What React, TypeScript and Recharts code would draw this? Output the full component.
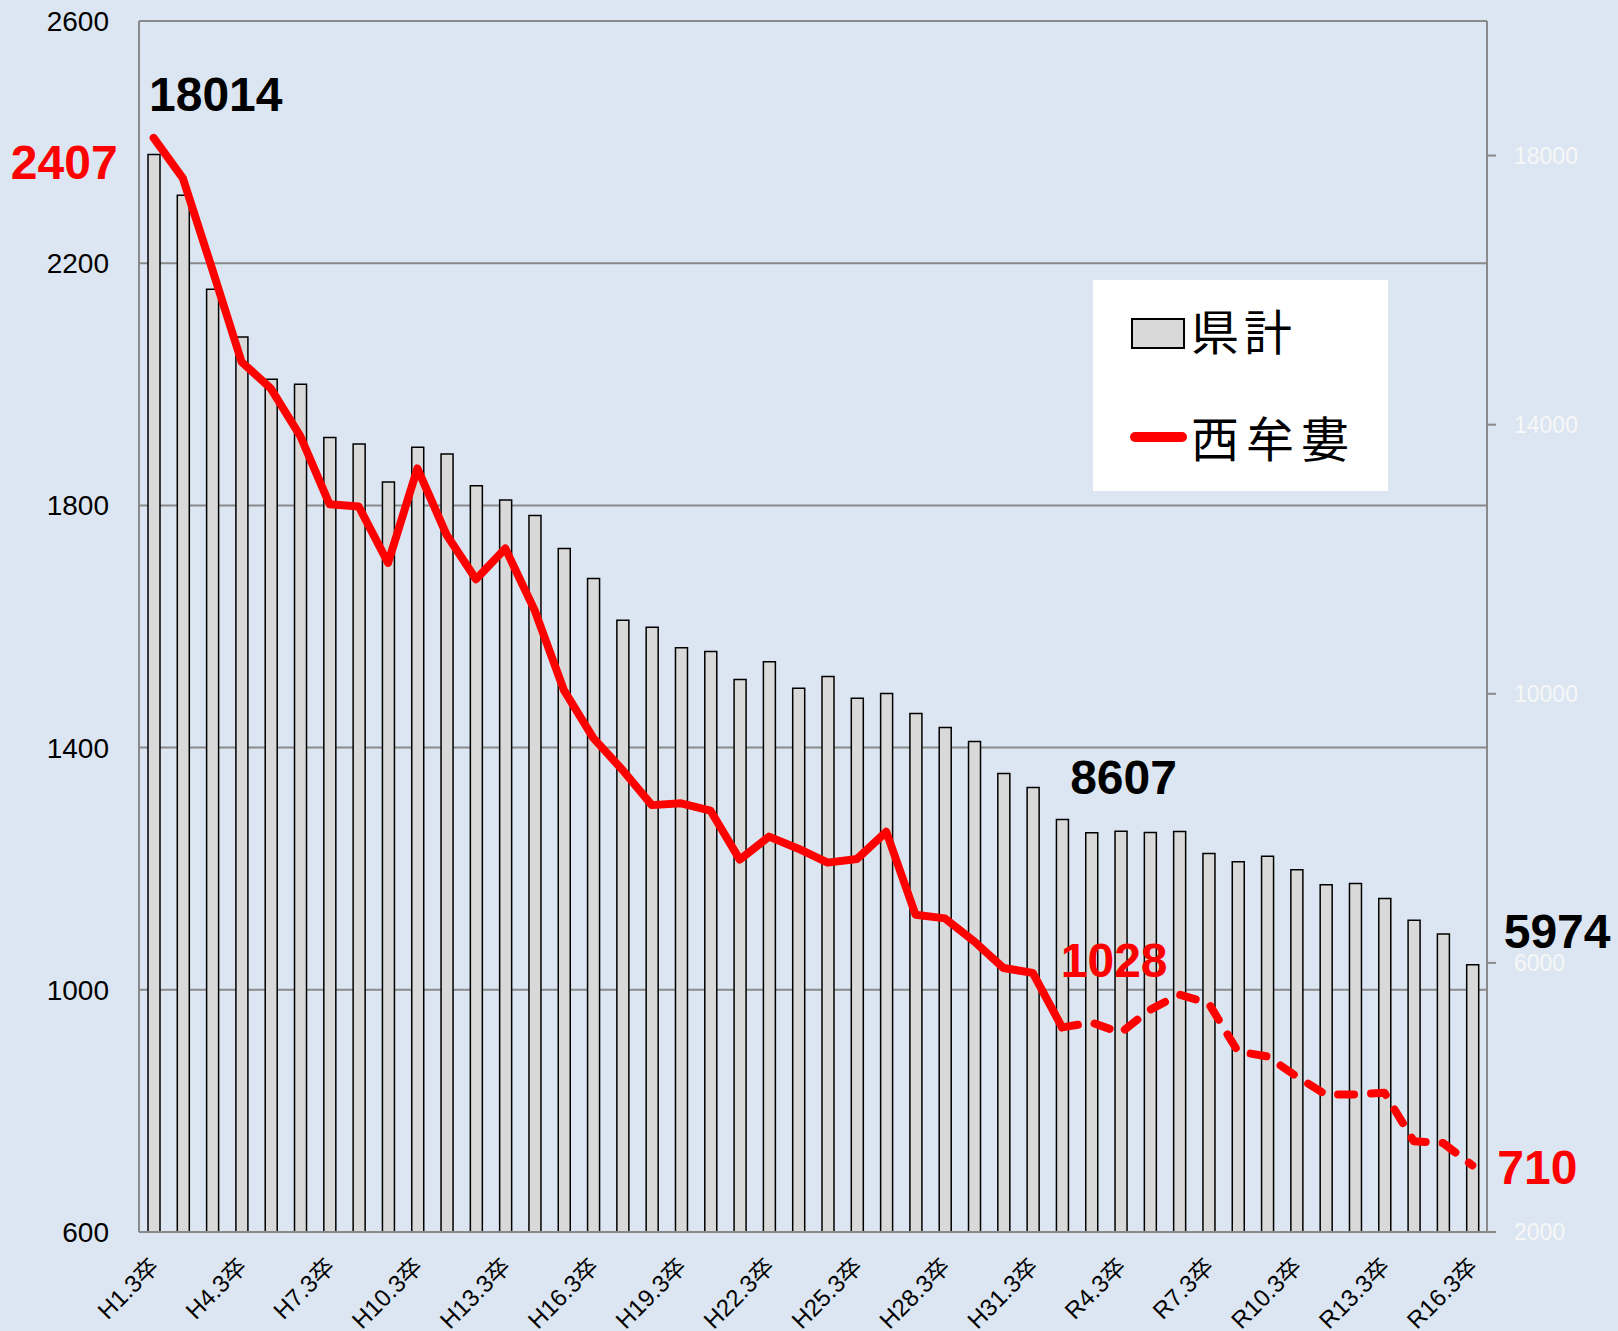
import React from 'react';
import { ComposedChart, Bar, Line, XAxis, YAxis, CartesianGrid, Legend, LabelList } from 'recharts';

const categories = [
  'H1.3卒', 'H2.3卒', 'H3.3卒', 'H4.3卒', 'H5.3卒', 'H6.3卒', 'H7.3卒', 'H8.3卒', 'H9.3卒', 'H10.3卒',
  'H11.3卒', 'H12.3卒', 'H13.3卒', 'H14.3卒', 'H15.3卒', 'H16.3卒', 'H17.3卒', 'H18.3卒', 'H19.3卒', 'H20.3卒',
  'H21.3卒', 'H22.3卒', 'H23.3卒', 'H24.3卒', 'H25.3卒', 'H26.3卒', 'H27.3卒', 'H28.3卒', 'H29.3卒', 'H30.3卒',
  'H31.3卒', 'R2.3卒', 'R3.3卒', 'R4.3卒', 'R5.3卒', 'R6.3卒', 'R7.3卒', 'R8.3卒', 'R9.3卒', 'R10.3卒',
  'R11.3卒', 'R12.3卒', 'R13.3卒', 'R14.3卒', 'R15.3卒', 'R16.3卒',
];

// 県計 (right axis)
const prefTotal = [
  18014, 17410, 16012, 15303, 14674, 14600, 13811, 13712, 13147, 13663,
  13563, 13093, 12879, 12651, 12161, 11715, 11094, 10990, 10684, 10629,
  10213, 10476, 10083, 10257, 9935, 10005, 9707, 9499, 9291, 8815,
  8607, 8131, 7933, 7957, 7938, 7952, 7625, 7502, 7585, 7383,
  7160, 7179, 6956, 6634, 6431, 5974,
];

// 西牟婁 (left axis)
const nishimuro = [
  2407, 2340, 2190, 2037, 1993, 1915, 1802, 1798, 1705, 1861,
  1751, 1678, 1729, 1627, 1495, 1416, 1363, 1305, 1308, 1296,
  1215, 1253, 1233, 1210, 1216, 1261, 1124, 1118, 1080, 1036,
  1028, 938, 946, 929, 967, 992, 978, 898, 890, 857,
  827, 827, 830, 750, 747, 710,
];

// solid line up to this index, dashed from here on
const lastSolidIndex = 31;

const leftTicks = [600, 1000, 1400, 1800, 2200, 2600];
const rightTicks = [2000, 6000, 10000, 14000, 18000];

const chartData = categories.map((name, i) => ({
  name,
  total: prefTotal[i],
  actual: i <= lastSolidIndex ? nishimuro[i] : null,
  forecast: i >= lastSolidIndex ? nishimuro[i] : null,
}));

const FONT = "'Liberation Sans', Arial, 'Noto Sans CJK JP', sans-serif";
const CJK = "'Noto Sans CJK JP', sans-serif";
const GRID = '#8a8a8a';
const RED = '#ff0000';

type Note = { dx: number; dy: number; anchor: 'start' | 'end' };

const barNotes: Record<number, Note> = {
  0: { dx: -5, dy: -44, anchor: 'start' },
  30: { dx: 37, dy: 7, anchor: 'start' },
  45: { dx: 31, dy: -17, anchor: 'start' },
};

const lineNotes: Record<number, Note> = {
  0: { dx: -36, dy: 41, anchor: 'end' },
  30: { dx: 28, dy: 4, anchor: 'start' },
  45: { dx: 25, dy: 19, anchor: 'start' },
};

const makeNote = (notes: Record<number, Note>, color: string) => (props: any) => {
  const { index, value } = props;
  const note = notes[index];
  if (!note || value == null) return null;
  const vb = props.viewBox || {};
  const x0 = (vb.x ?? props.x) + (vb.width ?? props.width ?? 0) / 2;
  const y0 = vb.y ?? props.y;
  return (
    <text
      x={x0 + note.dx}
      y={y0 + note.dy}
      textAnchor={note.anchor}
      fill={color}
      fontSize={48}
      fontWeight="bold"
      fontFamily={FONT}
    >
      {value}
    </text>
  );
};

const XTick = (props: any) => {
  const { x, y, payload } = props;
  return (
    <g transform={`translate(${x + 1},${y + 28})`}>
      <text
        x={0}
        y={0}
        dy="0.35em"
        textAnchor="end"
        transform="rotate(-45)"
        fill="#000"
        fontSize={24}
        fontFamily={FONT}
      >
        {payload.value}
      </text>
    </g>
  );
};

const renderLegend = (props: any) => {
  const items = (props.payload || []).filter((p: any) => p.type !== 'none');
  return (
    <svg width={295} height={211} style={{ display: 'block' }}>
      <rect x={0} y={0} width={295} height={211} fill="#ffffff" />
      {items.map((item: any, i: number) => {
        const baseline = i === 0 ? 70 : 177;
        const mid = i === 0 ? 53 : 157;
        return (
          <g key={item.value}>
            {item.type === 'line' ? (
              <line x1={42} y1={mid} x2={89} y2={mid} stroke={item.color} strokeWidth={10} strokeLinecap="round" />
            ) : (
              <rect x={39} y={39} width={52} height={29} fill="#d9d9d9" stroke="#000" strokeWidth={2} />
            )}
            <text x={98} y={baseline} fontSize={48} letterSpacing={i === 0 ? 5 : 7} fill="#000" fontFamily={CJK}>
              {item.value}
            </text>
          </g>
        );
      })}
    </svg>
  );
};

export default function App() {
  return (
    <div style={{ position: 'absolute', left: 0, top: 0, width: 1618, height: 1331, background: '#dce6f2' }}>
      <ComposedChart
        width={1618}
        height={1331}
        data={chartData}
        margin={{ top: 21, right: 0, bottom: 0, left: 0 }}
      >
        <CartesianGrid yAxisId="left" vertical={false} stroke={GRID} strokeWidth={2} />
        <XAxis
          dataKey="name"
          height={99}
          interval={2}
          tickLine={false}
          tickSize={0}
          axisLine={{ stroke: GRID, strokeWidth: 2 }}
          tick={<XTick />}
        />
        <YAxis
          yAxisId="left"
          orientation="left"
          width={139}
          domain={[600, 2600]}
          ticks={leftTicks}
          tickLine={false}
          tickSize={0}
          tickMargin={30}
          axisLine={{ stroke: GRID, strokeWidth: 2 }}
          tick={{ fill: '#000', fontSize: 28, fontFamily: FONT }}
        />
        <YAxis
          yAxisId="right"
          orientation="right"
          width={131}
          domain={[2000, 20000]}
          ticks={rightTicks}
          tickSize={9}
          tickMargin={18}
          tickLine={{ stroke: GRID, strokeWidth: 2 }}
          axisLine={{ stroke: GRID, strokeWidth: 2 }}
          tick={{ fill: '#f7f7f7', fontSize: 23, fontFamily: FONT }}
        />
        <Bar
          yAxisId="right"
          dataKey="total"
          name="県計"
          barSize={12}
          fill="#d9d9d9"
          stroke="#000"
          strokeWidth={1.5}
          legendType="rect"
          isAnimationActive={false}
        >
          <LabelList dataKey="total" content={makeNote(barNotes, '#000')} />
        </Bar>
        <Line
          yAxisId="left"
          dataKey="actual"
          name="西牟婁"
          stroke={RED}
          strokeWidth={8}
          strokeLinejoin="round"
          strokeLinecap="round"
          dot={false}
          activeDot={false}
          legendType="line"
          isAnimationActive={false}
        >
          <LabelList dataKey="actual" content={makeNote(lineNotes, RED)} />
        </Line>
        <Line
          yAxisId="left"
          dataKey="forecast"
          name="西牟婁（推計）"
          stroke={RED}
          strokeWidth={8}
          strokeDasharray="16 17"
          strokeLinejoin="round"
          strokeLinecap="round"
          dot={false}
          activeDot={false}
          legendType="none"
          isAnimationActive={false}
        >
          <LabelList dataKey="forecast" content={makeNote(lineNotes, RED)} />
        </Line>
        <Legend
          layout="vertical"
          align="center"
          verticalAlign="middle"
          wrapperStyle={{ left: 1093, top: 280, width: 295, height: 211 }}
          content={renderLegend}
        />
      </ComposedChart>
    </div>
  );
}
